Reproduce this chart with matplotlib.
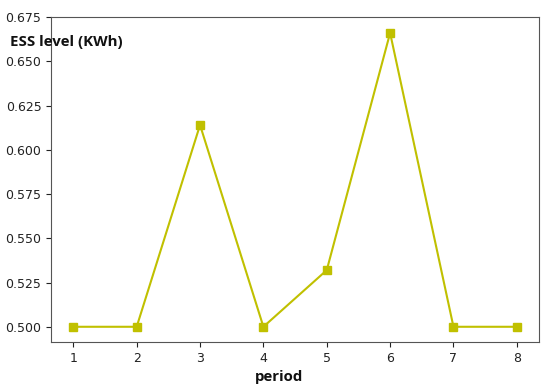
import matplotlib
matplotlib.use("Agg")
import matplotlib.pyplot as plt

periods = [1, 2, 3, 4, 5, 6, 7, 8]
ess_level = [0.500, 0.500, 0.614, 0.500, 0.532, 0.666, 0.500, 0.500]
yticks = [0.500, 0.525, 0.550, 0.575, 0.600, 0.625, 0.650, 0.675]

fig = plt.figure(figsize=(5.5, 3.92), dpi=100)
ax = fig.add_axes([0.093, 0.128, 0.887, 0.829])
ax.plot(periods, ess_level, color='#c0c000', marker='s', markersize=6, linewidth=1.5)
ax.set_xticks(periods)
ax.set_yticks(yticks)
ax.set_yticklabels([f"{v:.3f}" for v in yticks])
ax.tick_params(labelsize=9, colors='#222222')
for s in ax.spines.values():
    s.set_color('#555555')
ax.set_ylim(0.4915, 0.6751)
fig.text(0.018, 0.893, "ESS level (KWh)", fontsize=10.8, fontweight='bold',
         family='Open Sans', va='center', ha='left', color='#111111')
fig.text(0.507, 0.038, "period", fontsize=10.8, fontweight='bold',
         family='Open Sans', va='center', ha='center', color='#111111')
fig.savefig("out.png", dpi=100)
